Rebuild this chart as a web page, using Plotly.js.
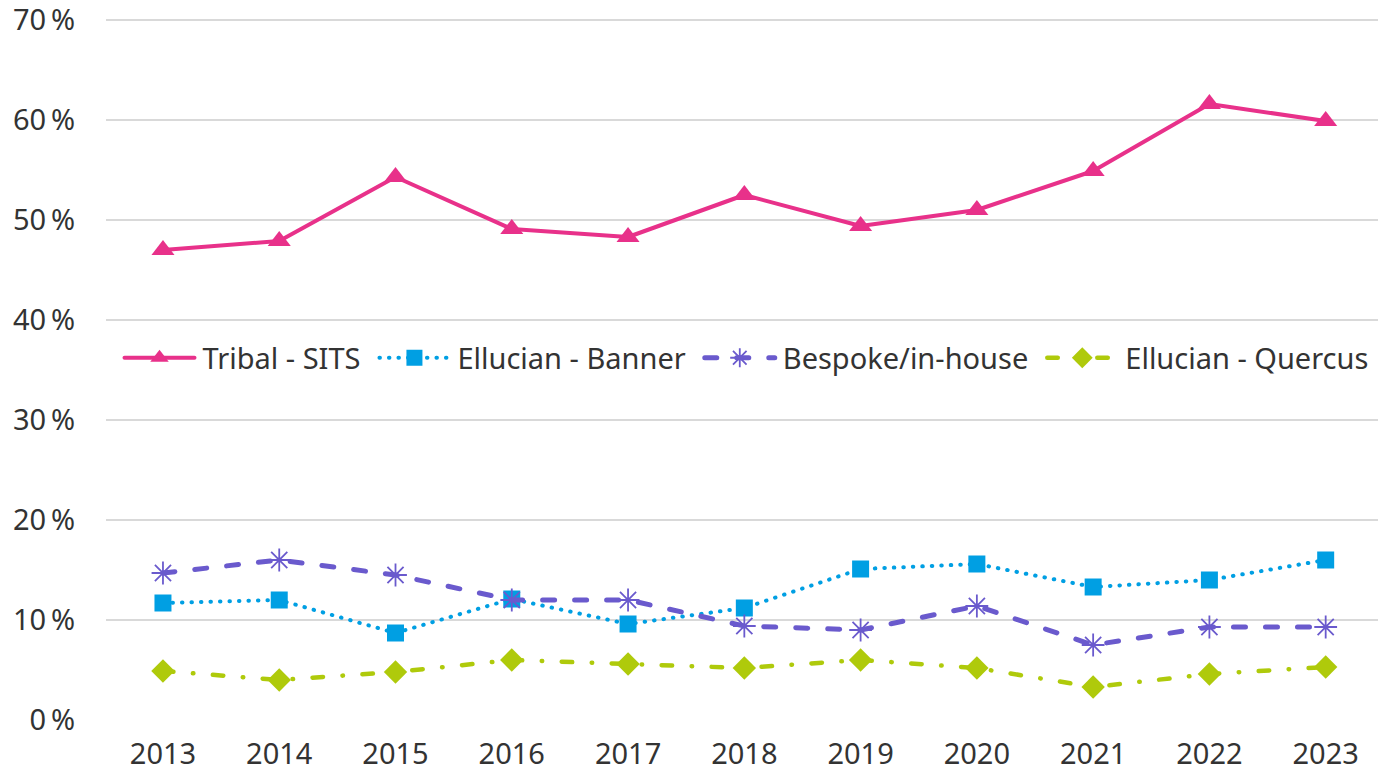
<!DOCTYPE html>
<html>
<head>
<meta charset="utf-8">
<script src="https://cdn.plot.ly/plotly-3.0.1.min.js"></script>
<style>
html,body{margin:0;padding:0;background:#fff;}
#chart{width:1378px;height:774px;}
#chart .scatterlayer .js-line, #chart .legend .js-line{stroke-linecap:round;stroke-linejoin:round;}
</style>
</head>
<body>
<div id="chart"></div>
<script>
const years = ["2013","2014","2015","2016","2017","2018","2019","2020","2021","2022","2023"];
const tribalSits = [47.0, 47.9, 54.3, 49.1, 48.3, 52.5, 49.4, 51.0, 54.9, 61.6, 59.9];
const ellucianBanner = [11.7, 12.0, 8.7, 12.1, 9.6, 11.2, 15.1, 15.6, 13.3, 14.0, 16.0];
const bespokeInHouse = [14.7, 16.0, 14.5, 12.0, 12.0, 9.4, 9.0, 11.4, 7.5, 9.3, 9.3];
const ellucianQuercus = [4.9, 4.0, 4.8, 6.0, 5.6, 5.2, 6.0, 5.2, 3.3, 4.6, 5.3];
const yTickVals = [0, 10, 20, 30, 40, 50, 60, 70];
const yTickText = ["0\u2009%", "10\u2009%", "20\u2009%", "30\u2009%", "40\u2009%", "50\u2009%", "60\u2009%", "70\u2009%"];

const traces = [
  {name: "Tribal - SITS", x: years, y: tribalSits, mode: "lines+markers",
   line: {color: "#E8318A", width: 4},
   marker: {symbol: "triangle-up", size: 20, color: "#E8318A"}},
  {name: "Ellucian - Banner", x: years, y: ellucianBanner, mode: "lines+markers",
   line: {color: "#009FE3", width: 4, dash: "0.5px,9px"},
   marker: {symbol: "square", size: 17, color: "#009FE3"}},
  {name: "Bespoke/in-house", x: years, y: bespokeInHouse, mode: "lines+markers",
   line: {color: "#6A5ACD", width: 5, dash: "12px,20px"},
   marker: {symbol: "asterisk-open", size: 19, color: "#6A5ACD", line: {color: "#6A5ACD", width: 1.8}}},
  {name: "Ellucian - Quercus", x: years, y: ellucianQuercus, mode: "lines+markers",
   line: {color: "#AFCA0B", width: 4.5, dash: "10.5px,19.5px,0.5px,19.5px"},
   marker: {symbol: "diamond", size: 18, color: "#AFCA0B"}}
];

const layout = {
  width: 1378, height: 774,
  margin: {l: 106, r: 0, t: 10, b: 54},
  paper_bgcolor: "#fff", plot_bgcolor: "#fff",
  font: {family: "Noto Sans, sans-serif", color: "#333333", size: 29},
  showlegend: true,
  legend: {orientation: "h", x: 0.5, xanchor: "center", y: 0.51, yanchor: "middle",
           bgcolor: "rgba(255,255,255,1)", font: {size: 29, color: "#333333"},
           itemwidth: 82, tracegroupgap: 0},
  xaxis: {type: "category", range: [-0.49, 10.45], showgrid: false, zeroline: false, showline: false,
          ticks: "", tickfont: {size: 29}, ticklabelstandoff: 14, automargin: false},
  yaxis: {range: [0, 71], tickvals: yTickVals, ticktext: yTickText,
          showgrid: true, gridcolor: "#D9D9D9", gridwidth: 1.5, zeroline: false, showline: false,
          ticks: "", tickfont: {size: 29}, ticklabelstandoff: 30, automargin: false,
          ticklabeloverflow: "allow"}
};

Plotly.newPlot("chart", traces, layout, {displayModeBar: false, staticPlot: true}).then(function (gd) {
  // lengthen legend line samples to resemble the reference's longer swatches
  gd.querySelectorAll(".legend .traces").forEach(function (tr) {
    tr.querySelectorAll(".legendlines path").forEach(function (p) {
      p.setAttribute("d", "M14,0h70");
    });
    tr.querySelectorAll(".legendpoints path").forEach(function (p) {
      p.setAttribute("transform", "translate(49,0)");
    });
  });
});
</script>
</body>
</html>
